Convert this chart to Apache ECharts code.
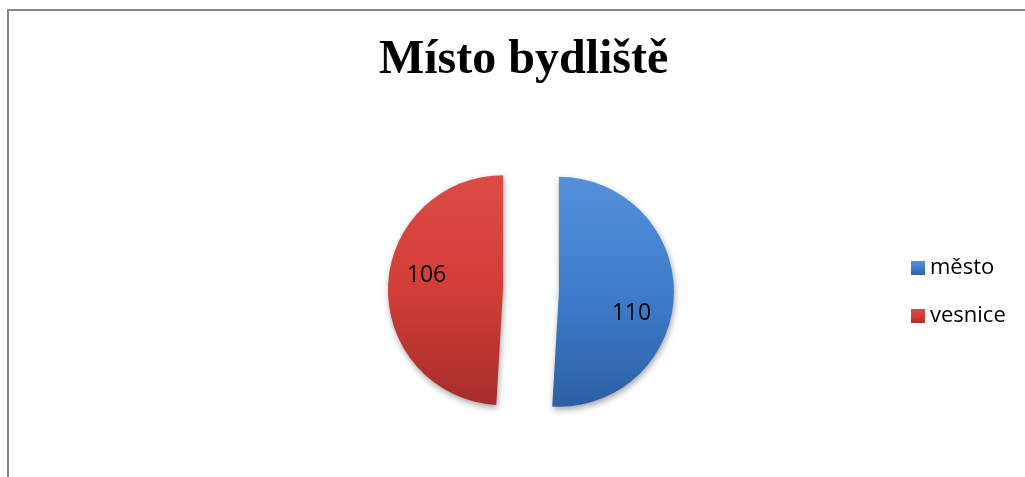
<!DOCTYPE html>
<html>
<head>
<meta charset="utf-8">
<script src="https://cdn.jsdelivr.net/npm/echarts@6/dist/echarts.min.js"></script>
<style>
  html, body { margin: 0; padding: 0; background: #fff; }
  #frame { position: absolute; left: 7px; top: 9px; width: 1030px; height: 480px;
           border-left: 2px solid #878787; border-top: 2px solid #878787; }
  #chart { position: absolute; left: 0; top: 0; width: 1025px; height: 477px; }
</style>
</head>
<body>
<div id="frame"></div>
<div id="chart"></div>
<script>
const titleText = 'Místo bydliště';
const categories = ['město', 'vesnice'];
const values = [110, 106];

const fills = [
  new echarts.graphic.LinearGradient(0, 0, 0, 1, [
    { offset: 0, color: '#5590da' }, { offset: 0.5, color: '#3e7dcc' }, { offset: 1, color: '#2c5fa3' }
  ]),
  new echarts.graphic.LinearGradient(0, 0, 0, 1, [
    { offset: 0, color: '#de4a45' }, { offset: 0.5, color: '#d23d38' }, { offset: 1, color: '#a52e2a' }
  ])
];
const labelShift = [[12, 20], [-16, -13]];

const chart = echarts.init(document.getElementById('chart'), null, { renderer: 'canvas' });
chart.setOption({
  animation: false,
  title: {
    text: titleText,
    left: '50.6%',
    textAlign: 'center',
    top: 32,
    textStyle: { fontFamily: 'Liberation Serif', fontWeight: 'bold', fontSize: 48, color: '#000' }
  },
  legend: {
    orient: 'vertical',
    left: 906,
    top: 252,
    itemWidth: 14,
    itemHeight: 14,
    itemGap: 26,
    itemTextGap: 8,
    icon: 'rect',
    selectedMode: false,
    data: categories,
    textStyle: { fontFamily: 'Open Sans', fontSize: 22, color: '#000' }
  },
  series: [{
    type: 'pie',
    center: ['51.8%', 291],
    radius: 115,
    startAngle: 90,
    clockwise: true,
    selectedMode: 'multiple',
    selectedOffset: 28,
    emphasis: { disabled: true },
    itemStyle: {
      shadowBlur: 6, shadowColor: 'rgba(0,0,0,0.35)', shadowOffsetY: 3, shadowOffsetX: 1
    },
    label: {
      show: true,
      position: 'inside',
      formatter: '{c}',
      fontFamily: 'Open Sans',
      fontSize: 23,
      color: '#000'
    },
    labelLayout: function (params) {
      const s = labelShift[params.dataIndex];
      return { dx: s[0], dy: s[1] };
    },
    labelLine: { show: false },
    data: categories.map((c, i) => ({
      name: c,
      value: values[i],
      selected: true,
      itemStyle: { color: fills[i] }
    }))
  }]
});
</script>
</body>
</html>
